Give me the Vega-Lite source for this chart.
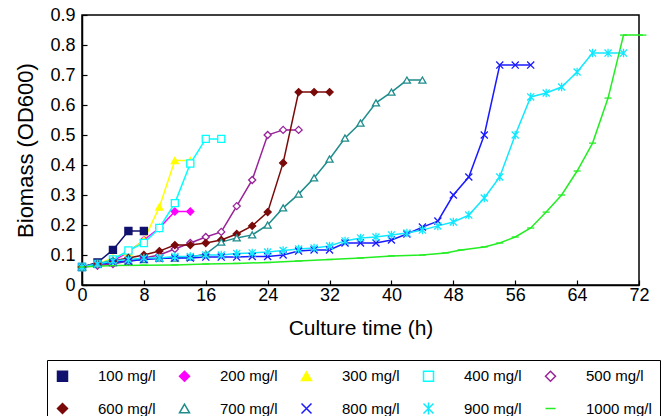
{
  "$schema": "https://vega.github.io/schema/vega-lite/v6.json",
  "width": 557,
  "height": 270,
  "autosize": {"type": "none"},
  "padding": {"left": 82, "top": 15, "right": 28, "bottom": 131},
  "background": "white",
  "config": {
    "font": "Liberation Sans",
    "view": {"stroke": "black", "strokeWidth": 1.5},
    "legend": {"orient": "none", "legendX": -35, "legendY": 345, "direction": "horizontal", "columns": 5,
      "title": null, "titlePadding": 0, "strokeColor": "black", "padding": 8, "fillColor": "white",
      "labelFontSize": 15, "labelColor": "black", "labelOffset": 28, "symbolSize": 100, "symbolStrokeWidth": 1.5,
      "columnPadding": 12, "rowPadding": 14, "gridAlign": "all"}
  },
  "data": {"values": [
    {"s":"100 mg/l","t":0,"v":0.06},{"s":"100 mg/l","t":2,"v":0.075},{"s":"100 mg/l","t":4,"v":0.117},{"s":"100 mg/l","t":6,"v":0.18},{"s":"100 mg/l","t":8,"v":0.18},
    {"s":"200 mg/l","t":0,"v":0.06},{"s":"200 mg/l","t":2,"v":0.065},{"s":"200 mg/l","t":4,"v":0.08},{"s":"200 mg/l","t":6,"v":0.11},{"s":"200 mg/l","t":8,"v":0.15},{"s":"200 mg/l","t":10,"v":0.19},{"s":"200 mg/l","t":12,"v":0.245},{"s":"200 mg/l","t":14,"v":0.245},
    {"s":"300 mg/l","t":0,"v":0.06},{"s":"300 mg/l","t":2,"v":0.07},{"s":"300 mg/l","t":4,"v":0.09},{"s":"300 mg/l","t":6,"v":0.11},{"s":"300 mg/l","t":8,"v":0.15},{"s":"300 mg/l","t":10,"v":0.26},{"s":"300 mg/l","t":12,"v":0.415},{"s":"300 mg/l","t":14,"v":0.415},
    {"s":"400 mg/l","t":0,"v":0.06},{"s":"400 mg/l","t":2,"v":0.07},{"s":"400 mg/l","t":4,"v":0.085},{"s":"400 mg/l","t":6,"v":0.115},{"s":"400 mg/l","t":8,"v":0.14},{"s":"400 mg/l","t":10,"v":0.19},{"s":"400 mg/l","t":12,"v":0.273},{"s":"400 mg/l","t":14,"v":0.405},{"s":"400 mg/l","t":16,"v":0.487},{"s":"400 mg/l","t":18,"v":0.487},
    {"s":"500 mg/l","t":0,"v":0.06},{"s":"500 mg/l","t":2,"v":0.065},{"s":"500 mg/l","t":4,"v":0.07},{"s":"500 mg/l","t":6,"v":0.08},{"s":"500 mg/l","t":8,"v":0.09},{"s":"500 mg/l","t":10,"v":0.1},{"s":"500 mg/l","t":12,"v":0.12},{"s":"500 mg/l","t":14,"v":0.14},{"s":"500 mg/l","t":16,"v":0.16},{"s":"500 mg/l","t":18,"v":0.177},{"s":"500 mg/l","t":20,"v":0.263},{"s":"500 mg/l","t":22,"v":0.35},{"s":"500 mg/l","t":24,"v":0.5},{"s":"500 mg/l","t":26,"v":0.517},{"s":"500 mg/l","t":28,"v":0.517},
    {"s":"600 mg/l","t":0,"v":0.06},{"s":"600 mg/l","t":2,"v":0.07},{"s":"600 mg/l","t":4,"v":0.08},{"s":"600 mg/l","t":6,"v":0.09},{"s":"600 mg/l","t":8,"v":0.1},{"s":"600 mg/l","t":10,"v":0.113},{"s":"600 mg/l","t":12,"v":0.133},{"s":"600 mg/l","t":14,"v":0.133},{"s":"600 mg/l","t":16,"v":0.14},{"s":"600 mg/l","t":18,"v":0.15},{"s":"600 mg/l","t":20,"v":0.17},{"s":"600 mg/l","t":22,"v":0.197},{"s":"600 mg/l","t":24,"v":0.243},{"s":"600 mg/l","t":26,"v":0.407},{"s":"600 mg/l","t":28,"v":0.643},{"s":"600 mg/l","t":30,"v":0.643},{"s":"600 mg/l","t":32,"v":0.643},
    {"s":"700 mg/l","t":0,"v":0.06},{"s":"700 mg/l","t":2,"v":0.07},{"s":"700 mg/l","t":4,"v":0.075},{"s":"700 mg/l","t":6,"v":0.08},{"s":"700 mg/l","t":8,"v":0.085},{"s":"700 mg/l","t":10,"v":0.09},{"s":"700 mg/l","t":12,"v":0.09},{"s":"700 mg/l","t":14,"v":0.093},{"s":"700 mg/l","t":16,"v":0.103},{"s":"700 mg/l","t":18,"v":0.143},{"s":"700 mg/l","t":20,"v":0.157},{"s":"700 mg/l","t":22,"v":0.167},{"s":"700 mg/l","t":24,"v":0.2},{"s":"700 mg/l","t":26,"v":0.257},{"s":"700 mg/l","t":28,"v":0.303},{"s":"700 mg/l","t":30,"v":0.357},{"s":"700 mg/l","t":32,"v":0.42},{"s":"700 mg/l","t":34,"v":0.49},{"s":"700 mg/l","t":36,"v":0.54},{"s":"700 mg/l","t":38,"v":0.607},{"s":"700 mg/l","t":40,"v":0.643},{"s":"700 mg/l","t":42,"v":0.683},{"s":"700 mg/l","t":44,"v":0.683},
    {"s":"800 mg/l","t":0,"v":0.06},{"s":"800 mg/l","t":2,"v":0.07},{"s":"800 mg/l","t":4,"v":0.075},{"s":"800 mg/l","t":6,"v":0.08},{"s":"800 mg/l","t":8,"v":0.085},{"s":"800 mg/l","t":10,"v":0.088},{"s":"800 mg/l","t":12,"v":0.09},{"s":"800 mg/l","t":14,"v":0.09},{"s":"800 mg/l","t":16,"v":0.093},{"s":"800 mg/l","t":18,"v":0.093},{"s":"800 mg/l","t":20,"v":0.093},{"s":"800 mg/l","t":22,"v":0.095},{"s":"800 mg/l","t":24,"v":0.095},{"s":"800 mg/l","t":26,"v":0.1},{"s":"800 mg/l","t":28,"v":0.113},{"s":"800 mg/l","t":30,"v":0.117},{"s":"800 mg/l","t":32,"v":0.117},{"s":"800 mg/l","t":34,"v":0.14},{"s":"800 mg/l","t":36,"v":0.14},{"s":"800 mg/l","t":38,"v":0.14},{"s":"800 mg/l","t":40,"v":0.15},{"s":"800 mg/l","t":42,"v":0.17},{"s":"800 mg/l","t":44,"v":0.193},{"s":"800 mg/l","t":46,"v":0.213},{"s":"800 mg/l","t":48,"v":0.3},{"s":"800 mg/l","t":50,"v":0.36},{"s":"800 mg/l","t":52,"v":0.5},{"s":"800 mg/l","t":54,"v":0.733},{"s":"800 mg/l","t":56,"v":0.733},{"s":"800 mg/l","t":58,"v":0.733},
    {"s":"900 mg/l","t":0,"v":0.06},{"s":"900 mg/l","t":2,"v":0.07},{"s":"900 mg/l","t":4,"v":0.08},{"s":"900 mg/l","t":6,"v":0.085},{"s":"900 mg/l","t":8,"v":0.09},{"s":"900 mg/l","t":10,"v":0.09},{"s":"900 mg/l","t":12,"v":0.095},{"s":"900 mg/l","t":14,"v":0.095},{"s":"900 mg/l","t":16,"v":0.1},{"s":"900 mg/l","t":18,"v":0.1},{"s":"900 mg/l","t":20,"v":0.105},{"s":"900 mg/l","t":22,"v":0.107},{"s":"900 mg/l","t":24,"v":0.11},{"s":"900 mg/l","t":26,"v":0.115},{"s":"900 mg/l","t":28,"v":0.12},{"s":"900 mg/l","t":30,"v":0.123},{"s":"900 mg/l","t":32,"v":0.13},{"s":"900 mg/l","t":34,"v":0.147},{"s":"900 mg/l","t":36,"v":0.157},{"s":"900 mg/l","t":38,"v":0.16},{"s":"900 mg/l","t":40,"v":0.167},{"s":"900 mg/l","t":42,"v":0.173},{"s":"900 mg/l","t":44,"v":0.183},{"s":"900 mg/l","t":46,"v":0.197},{"s":"900 mg/l","t":48,"v":0.21},{"s":"900 mg/l","t":50,"v":0.233},{"s":"900 mg/l","t":52,"v":0.29},{"s":"900 mg/l","t":54,"v":0.36},{"s":"900 mg/l","t":56,"v":0.5},{"s":"900 mg/l","t":58,"v":0.627},{"s":"900 mg/l","t":60,"v":0.64},{"s":"900 mg/l","t":62,"v":0.66},{"s":"900 mg/l","t":64,"v":0.71},{"s":"900 mg/l","t":66,"v":0.773},{"s":"900 mg/l","t":68,"v":0.773},{"s":"900 mg/l","t":70,"v":0.773},
    {"s":"1000 mg/l","t":0,"v":0.06},{"s":"1000 mg/l","t":4,"v":0.065},{"s":"1000 mg/l","t":8,"v":0.066},{"s":"1000 mg/l","t":12,"v":0.067},{"s":"1000 mg/l","t":16,"v":0.07},{"s":"1000 mg/l","t":20,"v":0.072},{"s":"1000 mg/l","t":24,"v":0.075},{"s":"1000 mg/l","t":28,"v":0.08},{"s":"1000 mg/l","t":32,"v":0.085},{"s":"1000 mg/l","t":36,"v":0.09},{"s":"1000 mg/l","t":40,"v":0.097},{"s":"1000 mg/l","t":44,"v":0.1},{"s":"1000 mg/l","t":47,"v":0.107},{"s":"1000 mg/l","t":49,"v":0.117},{"s":"1000 mg/l","t":52,"v":0.127},{"s":"1000 mg/l","t":54,"v":0.14},{"s":"1000 mg/l","t":56,"v":0.16},{"s":"1000 mg/l","t":58,"v":0.19},{"s":"1000 mg/l","t":60,"v":0.243},{"s":"1000 mg/l","t":62,"v":0.3},{"s":"1000 mg/l","t":64,"v":0.38},{"s":"1000 mg/l","t":66,"v":0.473},{"s":"1000 mg/l","t":68,"v":0.623},{"s":"1000 mg/l","t":70,"v":0.833},{"s":"1000 mg/l","t":72.5,"v":0.833}
  ]},
  "encoding": {
    "x": {"field": "t", "type": "quantitative",
      "scale": {"domain": [0, 72], "nice": false, "zero": false},
      "axis": {"values": [0,8,16,24,32,40,48,56,64,72], "title": "Culture time (h)", "grid": false,
        "domainColor": "black", "domainWidth": 1.5, "tickColor": "black", "tickSize": -5, "tickWidth": 1.2,
        "labelFontSize": 18, "labelColor": "black", "labelPadding": 6, "labelFlush": false,
        "titleFontSize": 21, "titleFontWeight": "normal", "titleColor": "black", "titlePadding": 13}},
    "y": {"field": "v", "type": "quantitative",
      "scale": {"domain": [0, 0.9], "nice": false},
      "axis": {"values": [0,0.1,0.2,0.3,0.4,0.5,0.6,0.7,0.8,0.9], "format": ".1~f", "title": "Biomass (OD600)", "grid": false,
        "domainColor": "black", "domainWidth": 1.5, "tickColor": "black", "tickSize": -5, "tickWidth": 1.2,
        "labelFontSize": 18, "labelColor": "black", "labelPadding": 12, "labelFlush": false,
        "titleFontSize": 22, "titleFontWeight": "normal", "titleColor": "black", "titlePadding": 12}},
    "stroke": {"field": "s", "type": "nominal",
      "scale": {"domain": ["100 mg/l","200 mg/l","300 mg/l","400 mg/l","500 mg/l","600 mg/l","700 mg/l","800 mg/l","900 mg/l","1000 mg/l"],
        "range": ["#10106e","#ff00ff","#ffff00","#00ffff","#992299","#7a0a0a","#1f8c8c","#1a1aff","#10e8ff","#22ee22"]},
      "legend": {"title": null}}
  },
  "layer": [
    {"mark": {"type": "line", "strokeWidth": 1.5}},
    {"mark": {"type": "point", "size": 50, "strokeWidth": 1.3, "opacity": 1},
     "encoding": {
       "shape": {"field": "s", "type": "nominal",
         "scale": {"domain": ["100 mg/l","200 mg/l","300 mg/l","400 mg/l","500 mg/l","600 mg/l","700 mg/l","800 mg/l","900 mg/l","1000 mg/l"],
           "range": ["square","diamond","triangle-up","square","diamond","diamond","triangle-up","M-1,-1L1,1M-1,1L1,-1","M-1,-1L1,1M-1,1L1,-1M0,-1.2L0,1.2","M-1,0L1,0"]},
         "legend": {"title": null}},
       "fill": {"field": "s", "type": "nominal",
         "scale": {"domain": ["100 mg/l","200 mg/l","300 mg/l","400 mg/l","500 mg/l","600 mg/l","700 mg/l","800 mg/l","900 mg/l","1000 mg/l"],
           "range": ["#10106e","#ff00ff","#ffff00","white","white","#7a0a0a","white","#1a1aff","#10e8ff","#22ee22"]},
         "legend": {"title": null}}
     }}
  ]
}
